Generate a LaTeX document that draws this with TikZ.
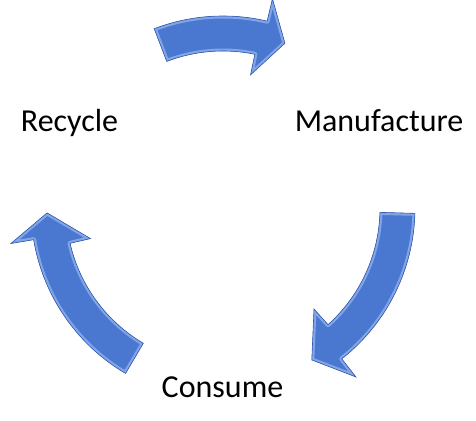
\documentclass[tikz,border=0pt]{standalone}
\usepackage{fontspec}
\setmainfont{Carlito}
\definecolor{arrowblue}{RGB}{74,120,208}
\definecolor{bevellight}{RGB}{130,165,230}
\definecolor{edgedark}{RGB}{50,88,175}
\def\arrowpath#1#2#3#4{(#1:192pt) arc[start angle=#1, end angle=#2, radius=192pt] -- (#2:215pt) -- (#4:176pt) -- (#3:136pt) -- (#3:157pt) arc[start angle=#3, end angle=#1, radius=157pt] -- cycle}
\newcommand{\cycarrow}[4]{%
  \fill[arrowblue] \arrowpath{#1}{#2}{#3}{#4};
  \begin{scope}
    \clip \arrowpath{#1}{#2}{#3}{#4};
    \draw[bevellight, line width=5pt, line join=round] \arrowpath{#1}{#2}{#3}{#4};
  \end{scope}
  \draw[edgedark, line width=0.6pt, line join=miter] \arrowpath{#1}{#2}{#3}{#4};
}
\tikzset{label/.style={font=\fontsize{32}{38}\selectfont, text=black, anchor=base, inner sep=0pt}}
\begin{document}
\begin{tikzpicture}
\useasboundingbox (0pt,0pt) rectangle (476pt,420pt);
\begin{scope}[shift={(223pt,212pt)}]
  \cycarrow{111}{76.7}{78.3}{69.4}
  \cycarrow{-1.6}{-51.8}{-48}{-59.7}
  \cycarrow{239.5}{189.5}{193}{181.6}
\end{scope}
\node[label] (manufacture) at (379pt,288pt) {Manufacture};
\node[label] (recycle) at (69.5pt,288pt) {Recycle};
\node[label] (consume) at (222.5pt,23pt) {Consume};
\end{tikzpicture}
\end{document}
